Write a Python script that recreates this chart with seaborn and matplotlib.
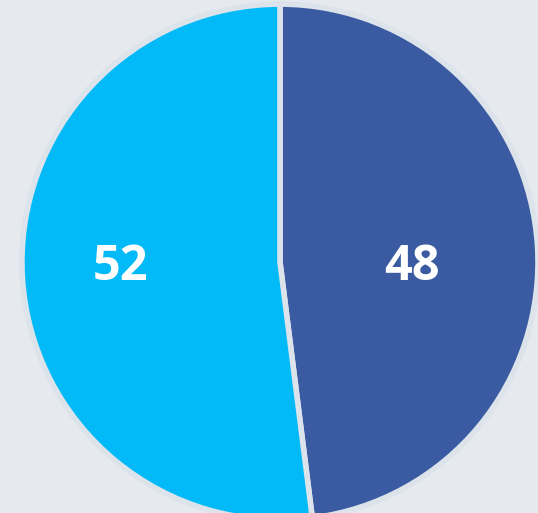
import matplotlib
matplotlib.use("Agg")
import matplotlib.pyplot as plt
import seaborn as sns

# --- data ---
labels = ["48", "52"]
values = [48, 52]
colors = ["#3A5BA1", "#02BAF7"]

sns.set_theme(style="white")
plt.rcParams['font.family'] = ['Open Sans', 'DejaVu Sans']

fig = plt.figure(figsize=(5.38, 5.13), dpi=100)
fig.patch.set_facecolor("#E6EAEF")
ax = fig.add_axes([0, 0, 1, 1])
ax.set_facecolor("#E6EAEF")

wedges, texts = ax.pie(
    values,
    colors=colors,
    startangle=90,
    counterclock=False,
    radius=1.0,
    labels=labels,
    labeldistance=0.57,
    wedgeprops=dict(edgecolor="#DCE3EB", linewidth=4),
    textprops=dict(color="white", fontsize=35, fontweight="bold"),
)
# labels sit roughly on the horizontal through the centre
label_dist = [0.51, 0.62]
for t, d in zip(texts, label_dist):
    x, y = t.get_position()
    t.set_position((d if x > 0 else -d, -0.02))
    t.set_ha("center")
    t.set_va("center")

# pie is cropped on the right and bottom like the reference
ax.set_aspect("auto")
ax.set_xlim(-1.085, 1.0)
ax.set_ylim(-0.973, 1.016)
ax.axis("off")

plt.savefig("out.png", dpi=100, facecolor=fig.get_facecolor())
